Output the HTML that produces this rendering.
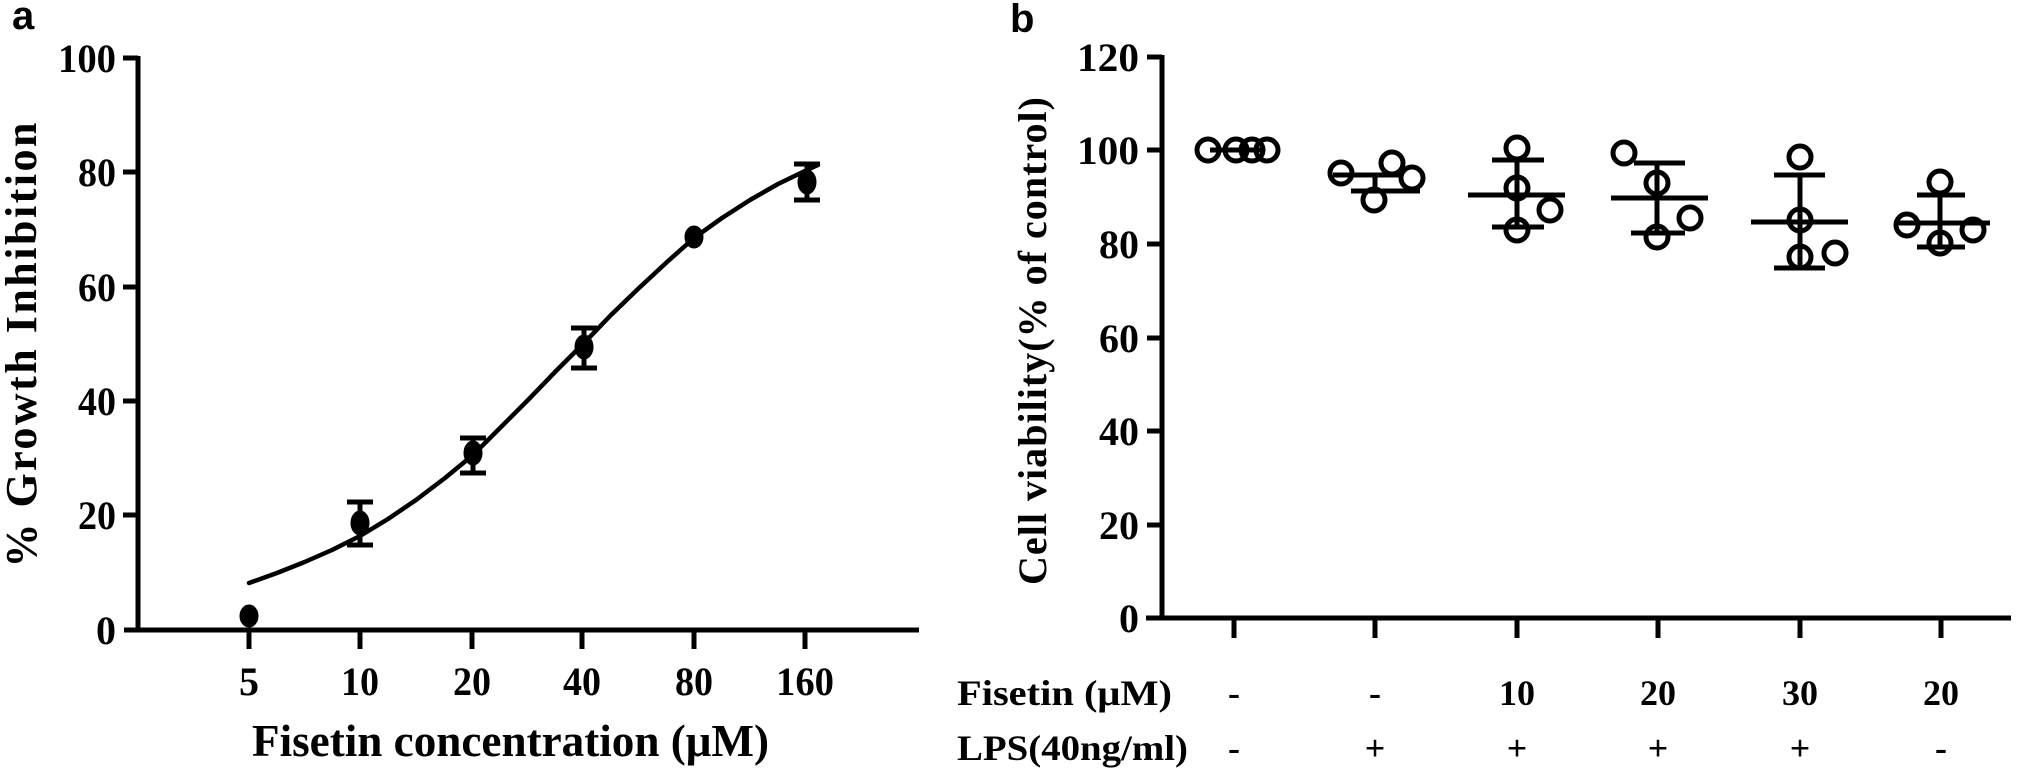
<!DOCTYPE html>
<html><head><meta charset="utf-8"><style>
html,body{margin:0;padding:0;background:#fff;}
svg{display:block;}
text{font-family:"Liberation Serif",serif;font-weight:bold;fill:#000;}
.s{font-family:"Liberation Sans",sans-serif;}
</style></head><body>
<svg width="2020" height="778" viewBox="0 0 2020 778" xmlns="http://www.w3.org/2000/svg">
<!-- Panel a -->
<text class="s" x="12" y="29" font-size="40">a</text>
<g stroke="#000" stroke-width="5" fill="none">
<line x1="138" y1="56" x2="138" y2="632"/>
<line x1="124" y1="630" x2="919" y2="630"/>
<line x1="123" y1="58" x2="138" y2="58"/>
<line x1="123" y1="172" x2="138" y2="172"/>
<line x1="123" y1="287" x2="138" y2="287"/>
<line x1="123" y1="401" x2="138" y2="401"/>
<line x1="123" y1="515" x2="138" y2="515"/>
<line x1="249" y1="630" x2="249" y2="649"/>
<line x1="360" y1="630" x2="360" y2="649"/>
<line x1="472" y1="630" x2="472" y2="649"/>
<line x1="582" y1="630" x2="582" y2="649"/>
<line x1="694" y1="630" x2="694" y2="649"/>
<line x1="805" y1="630" x2="805" y2="649"/>
</g>
<g font-size="40" text-anchor="end">
<text x="116" y="72" textLength="58" lengthAdjust="spacingAndGlyphs">100</text>
<text x="116" y="186" textLength="38" lengthAdjust="spacingAndGlyphs">80</text>
<text x="116" y="301" textLength="38" lengthAdjust="spacingAndGlyphs">60</text>
<text x="116" y="415" textLength="38" lengthAdjust="spacingAndGlyphs">40</text>
<text x="116" y="529" textLength="38" lengthAdjust="spacingAndGlyphs">20</text>
<text x="116" y="644">0</text>
</g>
<g font-size="40" text-anchor="middle">
<text x="249" y="695">5</text>
<text x="360" y="695" textLength="38" lengthAdjust="spacingAndGlyphs">10</text>
<text x="472" y="695" textLength="38" lengthAdjust="spacingAndGlyphs">20</text>
<text x="582" y="695" textLength="38" lengthAdjust="spacingAndGlyphs">40</text>
<text x="694" y="695" textLength="38" lengthAdjust="spacingAndGlyphs">80</text>
<text x="805" y="695" textLength="58" lengthAdjust="spacingAndGlyphs">160</text>
</g>
<text x="252" y="756" font-size="46" textLength="517" lengthAdjust="spacingAndGlyphs">Fisetin concentration (μM)</text>
<text transform="translate(36,345) rotate(-90)" font-size="44" text-anchor="middle" textLength="445" lengthAdjust="spacing">% Growth Inhibition</text>
<polyline fill="none" stroke="#000" stroke-width="4.5" stroke-linejoin="round" stroke-linecap="round"
 points="249,583 277,573 304.6,562 332,550 360,536 388,519 416,500 445,478 473,455 500,428 528,400 556,371 584,343 611,315 639,288 667,262 694,238 722,218 750,200 778,184 807,170 818,165"/>
<g fill="#000" stroke="#000" stroke-width="5">
<ellipse cx="249" cy="616" rx="7" ry="9"/>
<ellipse cx="360" cy="523" rx="7" ry="10"/>
<ellipse cx="473" cy="453" rx="7" ry="10"/>
<ellipse cx="584" cy="347" rx="7" ry="10"/>
<ellipse cx="694" cy="237" rx="7" ry="9"/>
<ellipse cx="807" cy="182" rx="7" ry="10"/>
<line x1="360" y1="502" x2="360" y2="545"/><line x1="347" y1="502" x2="373" y2="502"/><line x1="347" y1="545" x2="373" y2="545"/>
<line x1="473" y1="438" x2="473" y2="473"/><line x1="460" y1="438" x2="486" y2="438"/><line x1="460" y1="473" x2="486" y2="473"/>
<line x1="584" y1="328" x2="584" y2="368"/><line x1="571" y1="328" x2="597" y2="328"/><line x1="571" y1="368" x2="597" y2="368"/>
<line x1="807" y1="164" x2="807" y2="200"/><line x1="794" y1="164" x2="820" y2="164"/><line x1="794" y1="200" x2="820" y2="200"/>
</g>

<!-- Panel b -->
<text class="s" x="1010" y="32" font-size="40">b</text>
<g stroke="#000" stroke-width="5" fill="none">
<line x1="1162" y1="55" x2="1162" y2="620"/>
<line x1="1146" y1="618" x2="2011" y2="618"/>
<line x1="1147" y1="57" x2="1162" y2="57"/>
<line x1="1147" y1="150" x2="1162" y2="150"/>
<line x1="1147" y1="244" x2="1162" y2="244"/>
<line x1="1147" y1="338" x2="1162" y2="338"/>
<line x1="1147" y1="431" x2="1162" y2="431"/>
<line x1="1147" y1="525" x2="1162" y2="525"/>
<line x1="1234" y1="618" x2="1234" y2="638"/>
<line x1="1375" y1="618" x2="1375" y2="638"/>
<line x1="1517" y1="618" x2="1517" y2="638"/>
<line x1="1658" y1="618" x2="1658" y2="638"/>
<line x1="1800" y1="618" x2="1800" y2="638"/>
<line x1="1941" y1="618" x2="1941" y2="638"/>
</g>
<g font-size="40" text-anchor="end">
<text x="1139" y="71" textLength="62" lengthAdjust="spacingAndGlyphs">120</text>
<text x="1139" y="164" textLength="62" lengthAdjust="spacingAndGlyphs">100</text>
<text x="1139" y="258" textLength="40" lengthAdjust="spacingAndGlyphs">80</text>
<text x="1139" y="352" textLength="40" lengthAdjust="spacingAndGlyphs">60</text>
<text x="1139" y="445" textLength="40" lengthAdjust="spacingAndGlyphs">40</text>
<text x="1139" y="539" textLength="40" lengthAdjust="spacingAndGlyphs">20</text>
<text x="1139" y="632">0</text>
</g>
<text transform="translate(1046,341) rotate(-90)" font-size="40" text-anchor="middle" textLength="488" lengthAdjust="spacing">Cell viability(% of control)</text>
<g font-size="36">
<text x="957" y="705" textLength="215" lengthAdjust="spacingAndGlyphs">Fisetin (μM)</text>
<text x="957" y="760" textLength="231" lengthAdjust="spacingAndGlyphs">LPS(40ng/ml)</text>
</g>
<g font-size="36" text-anchor="middle">
<text x="1234" y="705">-</text><text x="1375" y="705">-</text>
<text x="1517" y="705">10</text><text x="1658" y="705">20</text>
<text x="1800" y="705">30</text><text x="1941" y="705">20</text>
<text x="1234" y="760">-</text><text x="1375" y="760">+</text>
<text x="1517" y="760">+</text><text x="1658" y="760">+</text>
<text x="1800" y="760">+</text><text x="1941" y="760">-</text>
</g>
<g stroke="#000" stroke-width="5" fill="none">
<circle cx="1208" cy="150" r="11"/><circle cx="1236" cy="150" r="11"/><circle cx="1252" cy="150" r="11"/><circle cx="1267" cy="150" r="11"/>
<line x1="1210" y1="150" x2="1265" y2="150"/>
<circle cx="1341" cy="173" r="11"/><circle cx="1392" cy="163" r="11"/><circle cx="1412" cy="178" r="11"/><circle cx="1374" cy="200" r="11"/>
<line x1="1333" y1="175" x2="1400" y2="175"/>
<line x1="1351" y1="191" x2="1420" y2="191"/>
<line x1="1375" y1="175" x2="1375" y2="191"/>
<circle cx="1517" cy="148" r="11"/><circle cx="1517" cy="188" r="11"/><circle cx="1550" cy="210" r="11"/><circle cx="1517" cy="230" r="11"/>
<line x1="1468" y1="195" x2="1565" y2="195"/>
<line x1="1492" y1="160" x2="1544" y2="160"/><line x1="1492" y1="227" x2="1544" y2="227"/>
<line x1="1517" y1="160" x2="1517" y2="227"/>
<circle cx="1624" cy="153" r="11"/><circle cx="1657" cy="183" r="11"/><circle cx="1690" cy="218" r="11"/><circle cx="1657" cy="237" r="11"/>
<line x1="1611" y1="198" x2="1708" y2="198"/>
<line x1="1634" y1="163" x2="1685" y2="163"/><line x1="1631" y1="233" x2="1685" y2="233"/>
<line x1="1657" y1="163" x2="1657" y2="233"/>
<circle cx="1800" cy="157" r="11"/><circle cx="1800" cy="220" r="11"/><circle cx="1800" cy="257" r="11"/><circle cx="1835" cy="253" r="11"/>
<line x1="1751" y1="222" x2="1848" y2="222"/>
<line x1="1774" y1="175" x2="1825" y2="175"/><line x1="1774" y1="268" x2="1825" y2="268"/>
<line x1="1800" y1="175" x2="1800" y2="268"/>
<circle cx="1940" cy="182" r="11"/><circle cx="1907" cy="225" r="11"/><circle cx="1940" cy="243" r="11"/><circle cx="1973" cy="230" r="11"/>
<line x1="1894" y1="223" x2="1990" y2="223"/>
<line x1="1917" y1="195" x2="1965" y2="195"/><line x1="1917" y1="247" x2="1965" y2="247"/>
<line x1="1940" y1="195" x2="1940" y2="247"/>
</g>
</svg>
</body></html>
